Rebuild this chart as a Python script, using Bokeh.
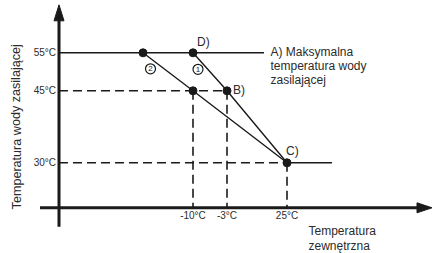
from bokeh.plotting import figure
from bokeh.models import Range1d
from bokeh.core.properties import value
from bokeh.embed import file_html
from bokeh.resources import INLINE

# ---- data (schematic diagram: positions in diagram units, origin = axes crossing) ----
supply_labels = ["55°C", "45°C", "30°C"]
supply_y = [155, 117, 45]          # supply temperature levels on the diagram
outdoor_labels = ["-10°C", "-3°C", "25°C"]
outdoor_x = [134, 168, 228]        # outdoor temperature positions on the diagram
curve2_start_x = 84                # start of curve 2 on the max-temperature line
max_line_end_x = 205
low_line_end_x = 273
axis_x_end = 373
axis_y_end = 203
axis_back = -19

point_names = ["D)", "B)", "C)"]
max_text = ["A) Maksymalna", "temperatura wody", "zasilającej"]
x_title = ["Temperatura", "zewnętrzna"]
y_title = "Temperatura wody zasilającej"
curve_ids = ["2", "1"]

FONT = value("Liberation Sans")
TXT = "#2b2b2b"
LN = "#1a1a1a"

p = figure(width=432, height=253, output_backend="svg", toolbar_location=None,
           x_range=Range1d(-58.5, 373.5), y_range=Range1d(-45.7, 207.3),
           min_border=0, outline_line_color=None)
p.axis.visible = False
p.grid.visible = False
p.background_fill_color = "white"
p.border_fill_color = "white"

xD, xB, xC = outdoor_x
y55, y45, y30 = supply_y

# axes
p.segment(x0=[axis_back, 0], y0=[0, axis_back], x1=[axis_x_end - 12, 0], y1=[0, axis_y_end - 12],
          line_color=LN, line_width=3)
p.patches(xs=[[axis_x_end, axis_x_end - 15, axis_x_end - 15], [-5, 5, 0]],
          ys=[[0, 5, -5], [axis_y_end - 16, axis_y_end - 16, axis_y_end]],
          fill_color=LN, line_color=LN, line_width=1)

# max temperature line & 30°C continuation (solid)
p.segment(x0=[0, xC], y0=[y55, y30], x1=[max_line_end_x, low_line_end_x], y1=[y55, y30],
          line_color=LN, line_width=1.5)

# dashed helper lines
p.segment(x0=[0, 0, xD, xB, xC], y0=[y45, y30, y45, y45, y30],
          x1=[xB, xC, xD, xB, xC], y1=[y45, y30, 0, 0, 0],
          line_color=LN, line_width=1.6, line_dash="9 5")

# heating curves
p.line(x=[xD, xB, xC], y=[y55, y45, y30], line_color=LN, line_width=1.4)
p.line(x=[curve2_start_x, xD, xC], y=[y55, y45, y30], line_color=LN, line_width=1.4)

# points
p.scatter(x=[curve2_start_x, xD, xD, xB, xC], y=[y55, y55, y45, y45, y30],
          size=8, fill_color=LN, line_color=LN)

# curve number markers
p.scatter(x=[curve2_start_x + 7.5, xD + 5], y=[y55 - 16, y55 - 16.5], size=10,
          fill_color="white", line_color=LN, line_width=1.2)
p.text(x=[curve2_start_x + 7.5, xD + 5], y=[y55 - 16, y55 - 16.5], text=curve_ids,
       text_font=FONT, text_font_size="8px", text_color=LN,
       text_align="center", text_baseline="middle")

# y tick labels
p.text(x=[-3] * 3, y=supply_y, text=supply_labels, text_font=FONT, text_font_size="10px",
       text_color=TXT, text_align="right", text_baseline="middle")
# x tick labels
p.text(x=outdoor_x, y=[-8] * 3, text=outdoor_labels, text_font=FONT, text_font_size="10px",
       text_color=TXT, text_align="center", text_baseline="middle")

# point labels
p.text(x=[xD + 4, xB + 6, xC - 1], y=[y55 + 11, y45 + 1, y30 + 12], text=point_names,
       text_font=FONT, text_font_size="12px", text_color=TXT,
       text_align="left", text_baseline="middle")

# A) label block
p.text(x=[211.5] * 3, y=[155.6, 142, 128], text=max_text, text_font=FONT,
       text_font_size="12px", text_color=TXT, text_align="left", text_baseline="middle")

# axis titles
p.text(x=[249.5] * 2, y=[-23, -38], text=x_title, text_font=FONT, text_font_size="12px",
       text_color=TXT, text_align="left", text_baseline="middle")
p.text(x=[-42.5], y=[81], text=[y_title], angle=1.5708, text_font=FONT,
       text_font_size="12.6px", text_color=TXT, text_align="center", text_baseline="middle")

open("out.html", "w").write(file_html(p, INLINE))
